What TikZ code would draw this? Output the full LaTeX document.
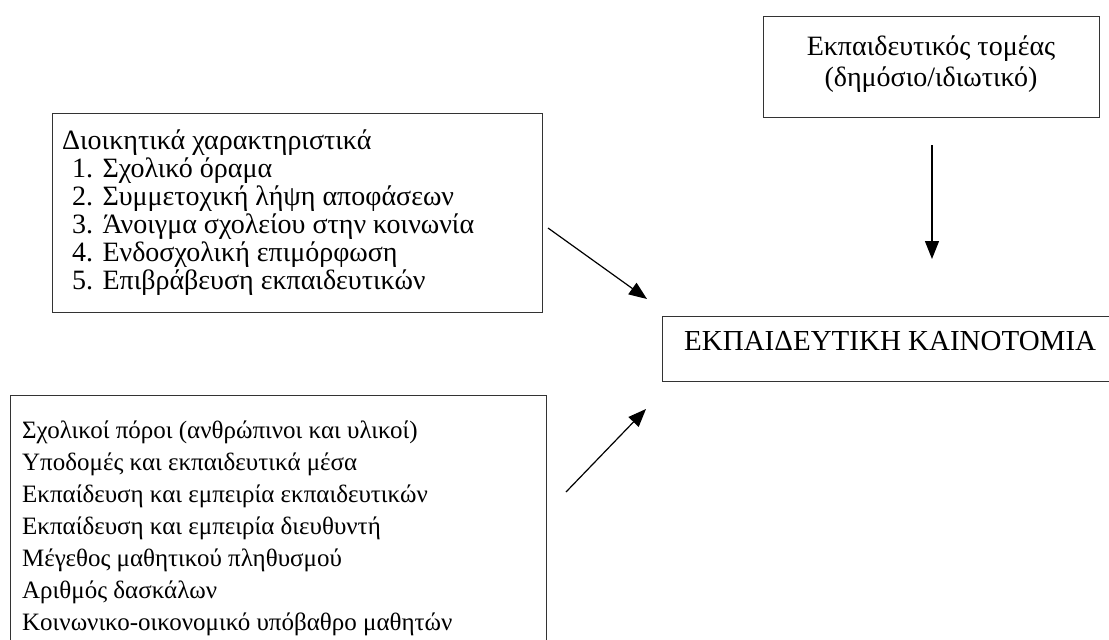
\documentclass[tikz,border=0pt]{standalone}
\usepackage{fontspec}
\setmainfont{Liberation Serif}
\usetikzlibrary{arrows.meta}
\begin{document}
\begin{tikzpicture}[x=1pt,y=-1pt,
  boxnode/.style={draw=black!80, line width=1.2pt, inner sep=0pt, anchor=north west},
  txt/.style={inner sep=0pt, font=\fontsize{28}{28}\selectfont},
  arr/.style={line width=1.2pt, -{Triangle[length=18pt,width=14pt]}}]
\useasboundingbox (0,0) rectangle (1109,640);
% boxes
\node[boxnode, minimum width=336pt, minimum height=101pt] (sectorbox) at (763,16) {};
\node[boxnode, minimum width=490pt, minimum height=199pt] (adminbox) at (52,113) {};
\node[boxnode, minimum width=460pt, minimum height=65pt] (innobox) at (662,316) {};
\node[boxnode, minimum width=536pt, minimum height=260pt] (resbox) at (10,395) {};
% texts
\node[txt] (sectorA) at (931,49) {Εκπαιδευτικός τομέας};
\node[txt] (sectorB) at (931,80) {(δημόσιο/ιδιωτικό)};
\node[txt, anchor=west, align=left] (admintxt) at (62,213) {Διοικητικά χαρακτηριστικά\\
\hspace*{10pt}1. Σχολικό όραμα\\
\hspace*{10pt}2. Συμμετοχική λήψη αποφάσεων\\
\hspace*{10pt}3. Άνοιγμα σχολείου στην κοινωνία\\
\hspace*{10pt}4. Ενδοσχολική επιμόρφωση\\
\hspace*{10pt}5. Επιβράβευση εκπαιδευτικών};
\node[txt, anchor=west, font=\fontsize{29}{29}\selectfont] (innotxt) at (684,341) {ΕΚΠΑΙΔΕΥΤΙΚΗ ΚΑΙΝΟΤΟΜΙΑ};
\node[txt, anchor=west, align=left, font=\fontsize{25}{32}\selectfont] (restxt) at (22,528) {Σχολικοί πόροι (ανθρώπινοι και υλικοί)\\
Υποδομές και εκπαιδευτικά μέσα\\
Εκπαίδευση και εμπειρία εκπαιδευτικών\\
Εκπαίδευση και εμπειρία διευθυντή\\
Μέγεθος μαθητικού πληθυσμού\\
Αριθμός δασκάλων\\
Κοινωνικο-οικονομικό υπόβαθρο μαθητών};
% arrows
\coordinate (a1s) at (548,228);
\coordinate (a1e) at (647,299);
\coordinate (a2s) at (566,492);
\coordinate (a2e) at (646,409);
\coordinate (a3s) at (932,145);
\coordinate (a3e) at (932,259);
\draw[arr] (a1s) -- (a1e);
\draw[arr] (a2s) -- (a2e);
\draw[arr] (a3s) -- (a3e);
\end{tikzpicture}
\end{document}
